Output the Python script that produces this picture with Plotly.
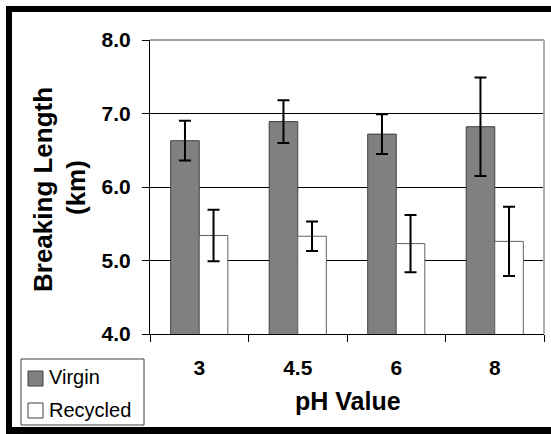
import plotly.graph_objects as go

# Breaking length of paper sheets (km) at each pH level
ph_labels = ["3", "4.5", "6", "8"]
virgin_mean = [6.63, 6.89, 6.72, 6.82]
virgin_err = [0.27, 0.29, 0.27, 0.67]
recycled_mean = [5.34, 5.33, 5.23, 5.26]
recycled_err = [0.35, 0.20, 0.39, 0.47]
y_ticks = [4.0, 5.0, 6.0, 7.0, 8.0]

W, H = 551, 434
ML, MR, MT, MB = 150, 7, 40, 100
PW, PH = W - ML - MR, H - MT - MB

FONT = "Liberation Sans, Arial, sans-serif"


def px(x):
    return (x - ML) / PW


def py(y):
    return (H - MB - y) / PH


fig = go.Figure()
fig.add_trace(go.Bar(
    name="Virgin", x=ph_labels, y=virgin_mean,
    marker=dict(color="#808080", line=dict(color="#404040", width=1)),
    error_y=dict(type="data", array=virgin_err, color="black", thickness=2, width=6),
))
fig.add_trace(go.Bar(
    name="Recycled", x=ph_labels, y=recycled_mean,
    marker=dict(color="white", line=dict(color="#606060", width=1)),
    error_y=dict(type="data", array=recycled_err, color="black", thickness=2, width=6),
))

shapes = []
# outer black frame
for x0, x1, y0, y1 in [(6, 12, 6, 440), (6, 560, 6, 12), (6, 560, 427, 440)]:
    shapes.append(dict(type="rect", xref="paper", yref="paper",
                       x0=px(x0), x1=px(x1), y0=py(y1), y1=py(y0),
                       fillcolor="black", line=dict(width=0), layer="above"))
# plot-area top and right edges
shapes.append(dict(type="line", xref="paper", yref="paper", x0=0, x1=1, y0=1, y1=1,
                   line=dict(color="#808080", width=1.5), layer="above"))
shapes.append(dict(type="line", xref="paper", yref="paper", x0=1, x1=1, y0=0, y1=1,
                   line=dict(color="#b0b0b0", width=2), layer="above"))
# legend box and swatches
shapes.append(dict(type="rect", xref="paper", yref="paper",
                   x0=px(21), x1=px(144), y0=py(425), y1=py(359),
                   fillcolor="white", line=dict(color="#404040", width=1)))
shapes.append(dict(type="rect", xref="paper", yref="paper",
                   x0=px(28), x1=px(43), y0=py(386), y1=py(371),
                   fillcolor="#808080", line=dict(color="#404040", width=1)))
shapes.append(dict(type="rect", xref="paper", yref="paper",
                   x0=px(28), x1=px(43), y0=py(418), y1=py(403),
                   fillcolor="white", line=dict(color="#404040", width=1)))

annotations = [
    dict(text="Virgin", x=px(47), y=py(377), xref="paper", yref="paper",
         xanchor="left", yanchor="middle", showarrow=False,
         font=dict(family=FONT, size=20, color="black")),
    dict(text="Recycled", x=px(47), y=py(410), xref="paper", yref="paper",
         xanchor="left", yanchor="middle", showarrow=False,
         font=dict(family=FONT, size=20, color="black")),
    dict(text="<b>Breaking Length</b>", x=px(43), y=py(190), xref="paper", yref="paper",
         xanchor="center", yanchor="middle", textangle=-90, showarrow=False,
         font=dict(family=FONT, size=26, color="black")),
    dict(text="<b>(km)</b>", x=px(76), y=py(188), xref="paper", yref="paper",
         xanchor="center", yanchor="middle", textangle=-90, showarrow=False,
         font=dict(family=FONT, size=26, color="black")),
    dict(text="<b>pH Value</b>", x=px(348), y=py(401), xref="paper", yref="paper",
         xanchor="center", yanchor="middle", showarrow=False,
         font=dict(family=FONT, size=25, color="black")),
]

fig.update_layout(
    width=W, height=H,
    margin=dict(l=ML, r=MR, t=MT, b=MB, pad=0),
    paper_bgcolor="white", plot_bgcolor="white",
    barmode="group", bargap=0.42, bargroupgap=0,
    showlegend=False,
    font=dict(family=FONT, color="black"),
    shapes=shapes, annotations=annotations,
    xaxis=dict(
        type="category", categoryorder="array", categoryarray=ph_labels,
        tickson="boundaries", ticks="outside", ticklen=7, tickcolor="black",
        ticklabelstandoff=15,
        showline=True, linecolor="black", linewidth=1,
        showgrid=False, zeroline=False,
        tickfont=dict(family=FONT, size=21, color="black", weight="bold"),
    ),
    yaxis=dict(
        range=[4, 8], tickvals=y_ticks, ticktext=[f"{v:.1f}" for v in y_ticks],
        ticks="outside", ticklen=7, tickcolor="black",
        ticklabelstandoff=7,
        showline=True, linecolor="black", linewidth=1,
        showgrid=True, gridcolor="black", gridwidth=1, zeroline=False,
        tickfont=dict(family=FONT, size=21, color="black", weight="bold"),
    ),
)

fig.write_html("out.html")
